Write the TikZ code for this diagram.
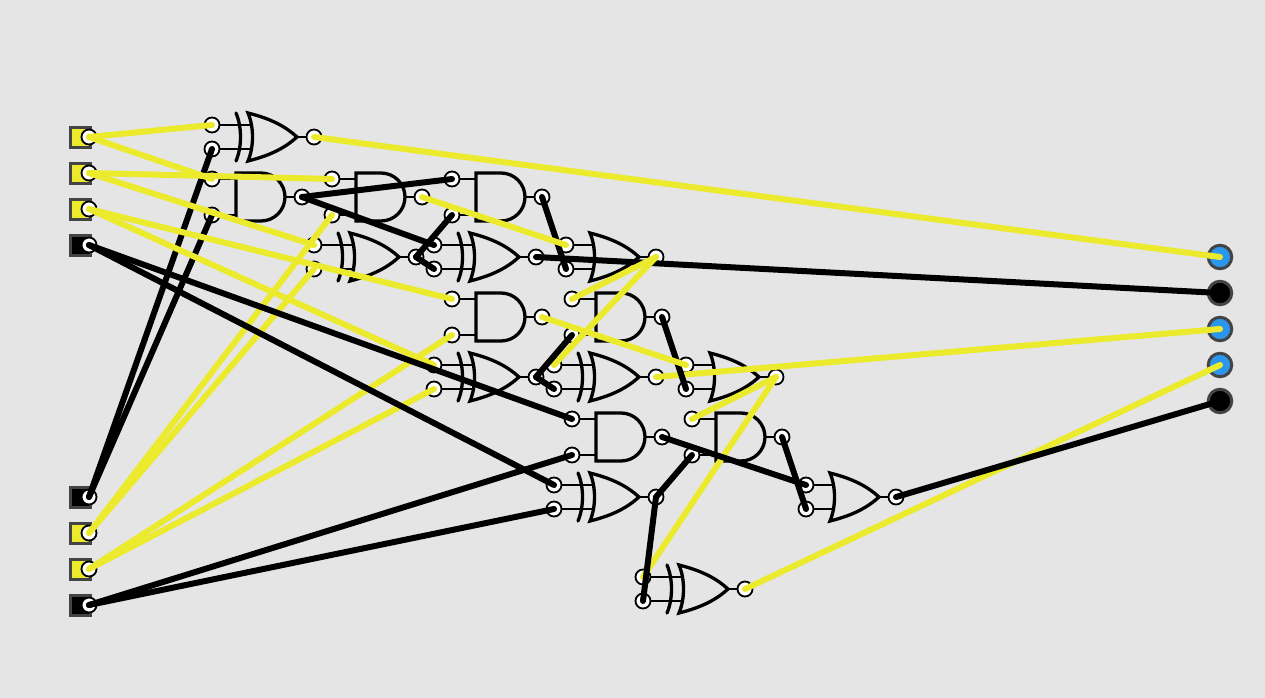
\documentclass[tikz,border=0pt]{standalone}
\usepackage{tikz}

\definecolor{panelgray}{HTML}{E5E5E5}
\definecolor{hotyellow}{HTML}{ECEA2C}
\definecolor{ledblue}{HTML}{2B96EE}
\definecolor{rimgray}{HTML}{444444}

\tikzset{
    portdot/.style={circle, draw=black, fill=white, line width=1.8pt, minimum size=15pt, inner sep=0pt},
    inbox/.style={rectangle, draw=rimgray, line width=3.2pt, minimum size=20.7pt, inner sep=0pt},
    outled/.style={circle, draw=rimgray, line width=3pt, minimum size=23.5pt, inner sep=0pt},
    stub/.style={line width=2.5pt},
    gatebody/.style={line width=3.3pt, miter limit=10},
    wirey/.style={hotyellow, line width=6pt, line cap=round},
    wirek/.style={black, line width=6pt, line cap=round},
    pics/andgate/.style={code={
        \draw[stub] (0,-18) -- (24,-18);
        \draw[stub] (0,18) -- (24,18);
        \draw[stub] (73,0) -- (90,0);
        \draw[gatebody] (24,-24) -- (49,-24) arc[start angle=90, end angle=-90, radius=24pt] -- (24,24) -- cycle;
        \node[portdot] (-a) at (0,-18) {};
        \node[portdot] (-b) at (0,18) {};
        \node[portdot] (-y) at (90,0) {};
    }},
    pics/orgate/.style={code={
        \draw[stub] (0,-12) -- (28,-12);
        \draw[stub] (0,12) -- (28,12);
        \draw[stub] (73,0) -- (90,0);
        \draw[gatebody] (24,-24) .. controls (48,-18) and (62,-10) .. (73,0) .. controls (62,10) and (48,18) .. (24,24) .. controls (30,10) and (30,-10) .. cycle;
        \node[portdot] (-a) at (0,-12) {};
        \node[portdot] (-b) at (0,12) {};
        \node[portdot] (-y) at (90,0) {};
    }},
    pics/xorgate/.style={code={
        \draw[stub] (0,-12) -- (40,-12);
        \draw[stub] (0,12) -- (40,12);
        \draw[stub] (85,0) -- (102,0);
        \draw[gatebody, line cap=round] (24,-24) .. controls (30,-10) and (30,10) .. (24,24);
        \draw[gatebody] (36,-24) .. controls (60,-18) and (74,-10) .. (85,0) .. controls (74,10) and (60,18) .. (36,24) .. controls (42,10) and (42,-10) .. cycle;
        \node[portdot] (-a) at (0,-12) {};
        \node[portdot] (-b) at (0,12) {};
        \node[portdot] (-y) at (102,0) {};
    }},
}

\begin{document}
\begin{tikzpicture}[x=1pt, y=-1pt]

    % Fundo
    \fill[panelgray] (0,0) rectangle (1265,698);
    \useasboundingbox (0,0) rectangle (1265,698);

    % Entradas
    \node[inbox, fill=hotyellow] (box1) at (80.5,137.5) {};
    \node[inbox, fill=hotyellow] (box2) at (80.5,173.5) {};
    \node[inbox, fill=hotyellow] (box3) at (80.5,209.5) {};
    \node[inbox, fill=black] (box4) at (80.5,245.5) {};
    \node[inbox, fill=black] (box5) at (80.5,497.5) {};
    \node[inbox, fill=hotyellow] (box6) at (80.5,533.5) {};
    \node[inbox, fill=hotyellow] (box7) at (80.5,569.5) {};
    \node[inbox, fill=black] (box8) at (80.5,605.5) {};
    \foreach \i/\yy in {1/137, 2/173, 3/209, 4/245, 5/497, 6/533, 7/569, 8/605}
        \node[portdot] (in\i) at (89,\yy) {};

    % Saidas
    \node[outled, fill=ledblue] (led1) at (1220,257) {};
    \node[outled, fill=black] (led2) at (1220,293) {};
    \node[outled, fill=ledblue] (led3) at (1220,329) {};
    \node[outled, fill=ledblue] (led4) at (1220,365) {};
    \node[outled, fill=black] (led5) at (1220,401) {};

    % Portas
    \pic (xa) at (212,137) {xorgate};
    \pic (xb) at (314,257) {xorgate};
    \pic (xc) at (434,257) {xorgate};
    \pic (xd) at (434,377) {xorgate};
    \pic (xe) at (554,377) {xorgate};
    \pic (xf) at (554,497) {xorgate};
    \pic (xg) at (643,589) {xorgate};
    \pic (oa) at (566,257) {orgate};
    \pic (ob) at (686,377) {orgate};
    \pic (oc) at (806,497) {orgate};
    \pic (na) at (212,197) {andgate};
    \pic (nb) at (332,197) {andgate};
    \pic (nc) at (452,197) {andgate};
    \pic (nd) at (452,317) {andgate};
    \pic (ne) at (572,317) {andgate};
    \pic (nf) at (572,437) {andgate};
    \pic (ng) at (692,437) {andgate};

    % Fios de in5
    \draw[wirek] (in5.center) -- (xa-b.center);
    \draw[wirek] (in5.center) -- (na-b.center);

    % Fios das entradas em amarelo
    \draw[wirey] (in1.center) -- (xa-a.center);
    \draw[wirey] (in1.center) -- (na-a.center);
    \draw[wirey] (in2.center) -- (nb-a.center);
    \draw[wirey] (in2.center) -- (xb-a.center);
    \draw[wirey] (in3.center) -- (nd-a.center);
    \draw[wirey] (in3.center) -- (xd-a.center);
    \draw[wirey] (in6.center) -- (nb-b.center);
    \draw[wirey] (in6.center) -- (xb-b.center);
    \draw[wirey] (in7.center) -- (nd-b.center);
    \draw[wirey] (in7.center) -- (xd-b.center);

    % Fios de in4 e in8
    \draw[wirek] (in4.center) -- (nf-a.center);
    \draw[wirek] (in4.center) -- (xf-a.center);
    \draw[wirek] (in8.center) -- (nf-b.center);
    \draw[wirek] (in8.center) -- (xf-b.center);

    % Fios internos
    \draw[wirey] (xa-y.center) -- (led1.center);
    \draw[wirek] (na-y.center) -- (nc-a.center);
    \draw[wirek] (na-y.center) -- (xc-a.center);
    \draw[wirek] (xb-y.center) -- (nc-b.center);
    \draw[wirek] (xb-y.center) -- (xc-b.center);
    \draw[wirek] (nc-y.center) -- (oa-b.center);
    \draw[wirey] (nb-y.center) -- (oa-a.center);
    \draw[wirek] (xc-y.center) -- (led2.center);
    \draw[wirey] (oa-y.center) -- (ne-a.center);
    \draw[wirey] (oa-y.center) -- (xe-a.center);
    \draw[wirek] (xd-y.center) -- (ne-b.center);
    \draw[wirek] (xd-y.center) -- (xe-b.center);
    \draw[wirey] (xe-y.center) -- (led3.center);
    \draw[wirek] (ne-y.center) -- (ob-b.center);
    \draw[wirey] (nd-y.center) -- (ob-a.center);
    \draw[wirey] (ob-y.center) -- (ng-a.center);
    \draw[wirey] (ob-y.center) -- (xg-a.center);
    \draw[wirek] (nf-y.center) -- (oc-a.center);
    \draw[wirek] (ng-y.center) -- (oc-b.center);
    \draw[wirek] (xf-y.center) -- (ng-b.center);
    \draw[wirek] (xf-y.center) -- (xg-b.center);
    \draw[wirey] (xg-y.center) -- (led4.center);
    \draw[wirek] (oc-y.center) -- (led5.center);

\end{tikzpicture}
\end{document}
